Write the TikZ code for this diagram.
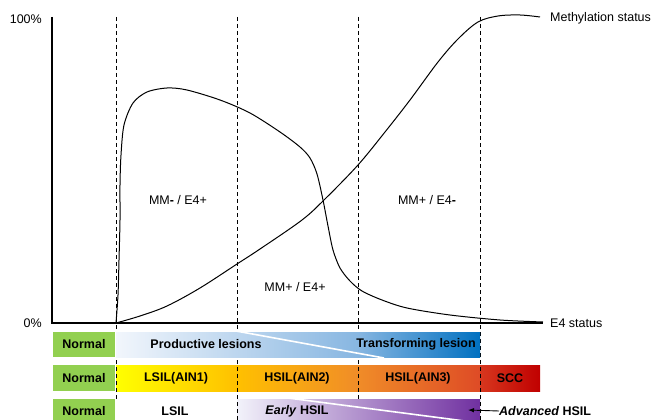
\documentclass[tikz,border=0pt]{standalone}
\usepackage{fontspec}
\setmainfont{Liberation Sans}
\usetikzlibrary{arrows.meta}
\definecolor{normgreen}{RGB}{146,208,80}
\definecolor{bluepale}{RGB}{242,246,252}
\definecolor{bluemid}{RGB}{135,182,225}
\definecolor{bluedark}{RGB}{0,112,192}
\definecolor{yel}{RGB}{255,255,0}
\definecolor{orA}{RGB}{255,192,0}
\definecolor{orB}{RGB}{240,140,40}
\definecolor{orC}{RGB}{222,75,38}
\definecolor{sccA}{RGB}{215,55,30}
\definecolor{sccB}{RGB}{192,0,0}
\definecolor{purpale}{RGB}{242,242,250}
\definecolor{purdark}{RGB}{112,48,160}
\begin{document}
\begin{tikzpicture}[x=1pt,y=-1pt,
  txt/.style={inner sep=0pt, font=\fontsize{12.5}{15}\selectfont},
  barlbl/.style={inner sep=0pt, font=\fontsize{12.5}{15}\selectfont\bfseries},
  vdash/.style={dash pattern=on 4pt off 3pt, line width=0.9pt},
  curve/.style={line width=1pt, black},
  axis/.style={line width=2pt, black},
  normbox/.style={fill=normgreen}]
\useasboundingbox (0,0) rectangle (654,420);
\clip (0,0) rectangle (654,420);

% ---- bars (rows 2 and 3, under the dashed lines) ----
% row 2
\fill[normbox] (53,365) rectangle (115,391);
\fill[left color=yel, right color=orA] (116,365) rectangle (237.5,391);
\fill[left color=orA, right color=orB] (237,365) rectangle (358.5,391);
\fill[left color=orB, right color=orC] (358,365) rectangle (480.5,391);
\fill[left color=sccA, right color=sccB] (480,365) rectangle (540,391);
% row 3
\fill[normbox] (53,399) rectangle (115,425);
\fill[left color=purpale, right color=purdark] (237,399) rectangle (480,425);
\draw[white, line width=1.6pt] (288,398) -- (480,423);

% ---- dashed verticals ----
\draw[vdash] (116,17) -- (116,400);
\draw[vdash] (237,17) -- (237,420);
\draw[vdash] (358,17) -- (358,400);
\draw[vdash] (480,17) -- (480,420);

% ---- row 1 (over the dashed lines) ----
\fill[normbox] (53,332) rectangle (115,357);
\fill[left color=bluepale, right color=bluemid] (116,332) rectangle (358.5,357);
\fill[left color=bluemid, right color=bluedark] (358,332) rectangle (480,357);
\draw[white, line width=1.6pt] (236,331) -- (384,358);

% ---- axes ----
\draw[axis] (52,17) -- (52,323) -- (543,323);

% ---- curves ----
\draw[curve] plot[smooth, tension=0.55] coordinates {
 (116,323) (140,316) (167,306) (200,288) (237,264) (260,249) (302,220)
 (325,199) (358,165) (385,132) (410,100) (438,62) (458,39) (478,22)
 (498,16) (520,15) (540,17)};
\draw[curve] plot[smooth, tension=0.5] coordinates {
 (116,323) (118,295) (119,260) (120,220) (120,185) (121,155) (124,125)
 (133,103) (147,92) (167,88) (187,90) (220,100) (250,113) (280,132)
 (300,147) (310,158) (317,174) (323,200) (328,226) (333,250) (340,268)
 (350,281) (362,291) (382,300) (407,308) (450,315) (500,320) (543,322)};

% ---- axis labels ----
\node[txt, anchor=east] (p100) at (42,19) {100\%};
\node[txt, anchor=east] (p0) at (42,323) {0\%};
\node[txt, anchor=west] (meth) at (550,18) {Methylation status};
\node[txt, anchor=west] (e4s) at (550,323) {E4 status};

% ---- region labels ----
\node[txt] (r1) at (178,200) {MM\textbf{-} / E4+};
\node[txt] (r2) at (427,200) {MM+ / E4\textbf{-}};
\node[txt] (r3) at (295,287) {MM+ / E4+};

% ---- bar labels ----
\node[barlbl] (n1) at (84,344.5) {Normal};
\node[barlbl] (prod) at (206,344.5) {Productive lesions};
\node[barlbl] (trans) at (416,344.5) {Transforming lesion};
\node[barlbl] (n2) at (84,378) {Normal};
\node[barlbl] (ain1) at (176,378) {LSIL(AIN1)};
\node[barlbl] (ain2) at (297,378) {HSIL(AIN2)};
\node[barlbl] (ain3) at (418,378) {HSIL(AIN3)};
\node[barlbl] (scc) at (510,378) {SCC};
\node[barlbl] (n3) at (84,411) {Normal};
\node[barlbl] (lsil) at (175,411) {LSIL};
\node[barlbl] (early) at (297,411) {\textit{Early} HSIL};
\node[barlbl, anchor=west] (adv) at (499,411) {\textit{Advanced} HSIL};
\coordinate (advtip) at (468,410);
\draw[-{Latex[length=6pt,width=4.5pt]}, line width=0.9pt] (adv.west) -- (advtip);
\end{tikzpicture}
\end{document}
